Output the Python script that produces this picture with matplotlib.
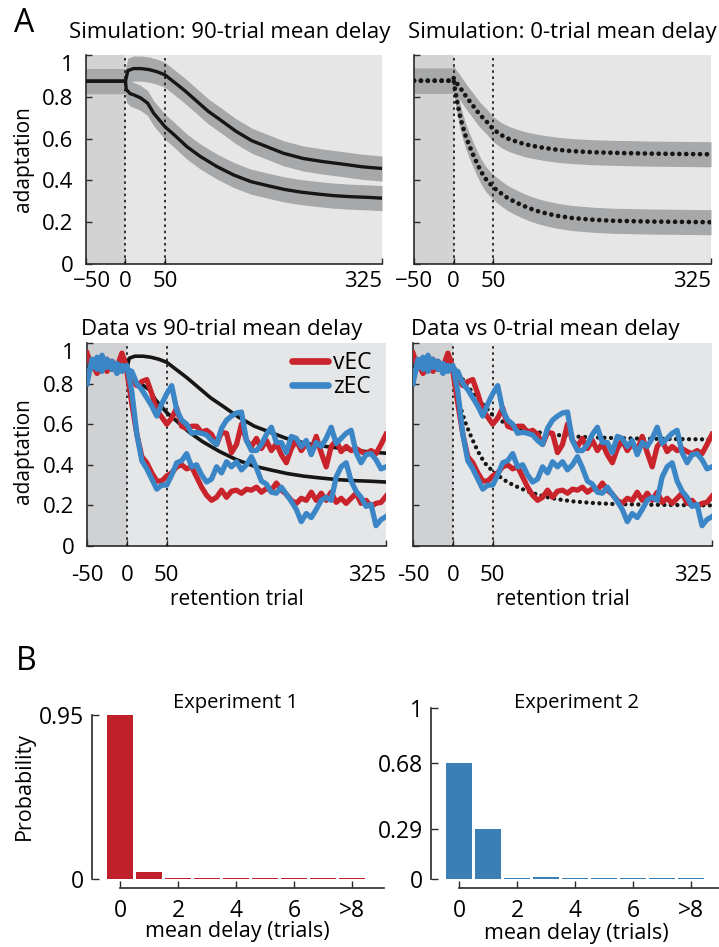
import numpy as np
import matplotlib.pyplot as plt
from matplotlib.lines import Line2D
from matplotlib.transforms import ScaledTranslation

plt.rcParams['font.family'] = ['Open Sans', 'DejaVu Sans']

# ---------------- data ----------------
# Simulation, 90-trial mean delay (two conditions)
sim90_hi_t = [-50, -25, 0, 3, 10, 20, 30, 40, 50, 60, 75, 90, 105, 120, 140, 160, 180, 200, 225, 250, 275, 300, 325]
sim90_hi = [0.875, 0.875, 0.875, 0.925, 0.935, 0.935, 0.93, 0.92, 0.905, 0.875, 0.83, 0.78, 0.73, 0.69,
            0.635, 0.59, 0.56, 0.53, 0.505, 0.49, 0.478, 0.465, 0.457]
sim90_lo_t = [-50, -25, 0, 1, 6, 10, 19, 28, 36, 45, 50, 62, 78, 95, 116, 137, 159, 180, 201, 222, 243, 264, 285, 306, 325]
sim90_lo = [0.875, 0.875, 0.875, 0.835, 0.815, 0.81, 0.795, 0.77, 0.72, 0.68, 0.657, 0.617, 0.561, 0.514,
            0.466, 0.426, 0.394, 0.375, 0.357, 0.344, 0.335, 0.327, 0.322, 0.319, 0.315]

# Simulation, 0-trial mean delay (two conditions)
sim0_hi_t = [-50, -25, -2, 0, 3, 8, 17, 25, 33, 42, 50, 60, 70, 80, 90, 100, 115, 130, 150, 175, 200, 250, 300, 325]
sim0_hi = [0.877, 0.877, 0.877, 0.89, 0.87, 0.845, 0.795, 0.755, 0.715, 0.68, 0.645, 0.617, 0.598, 0.585,
           0.573, 0.565, 0.555, 0.547, 0.54, 0.535, 0.532, 0.528, 0.526, 0.525]
sim0_lo_t = [-50, -25, -2, 0, 2, 5, 8, 11, 15, 20, 25, 30, 35, 41, 47, 54, 60, 68, 77, 86, 96, 107, 119,
             132, 150, 175, 200, 250, 325]
sim0_lo = [0.877, 0.877, 0.877, 0.88, 0.83, 0.765, 0.71, 0.665, 0.615, 0.565, 0.52, 0.478, 0.44, 0.405,
           0.38, 0.355, 0.338, 0.316, 0.298, 0.282, 0.266, 0.252, 0.24, 0.23, 0.22, 0.212, 0.207, 0.203, 0.20]
sim_band = 0.06  # half-width of simulation spread

# Data (retention trials every 6.25 trials from -50 to 325)
data_t = np.linspace(-50, 325, 61)
vEC_hi = [0.95, 0.88, 0.87, 0.90, 0.86, 0.91, 0.88, 0.95, 0.88,
          0.82, 0.79, 0.81, 0.82, 0.75, 0.67, 0.635, 0.60, 0.63, 0.68, 0.59, 0.58, 0.59, 0.59, 0.56, 0.57,
          0.55, 0.50, 0.56, 0.555, 0.46, 0.50, 0.60, 0.52, 0.49, 0.53, 0.48, 0.52, 0.47, 0.505, 0.45, 0.41,
          0.48, 0.52, 0.47, 0.505, 0.47, 0.54, 0.46, 0.39, 0.49, 0.52, 0.465, 0.49, 0.47, 0.48, 0.465,
          0.455, 0.47, 0.455, 0.50, 0.55]
vEC_lo = [0.93, 0.90, 0.85, 0.88, 0.92, 0.87, 0.89, 0.90, 0.86,
          0.70, 0.55, 0.44, 0.41, 0.36, 0.32, 0.32, 0.345, 0.36, 0.39, 0.40, 0.38, 0.39, 0.34, 0.29, 0.25,
          0.225, 0.24, 0.275, 0.24, 0.27, 0.275, 0.26, 0.28, 0.275, 0.29, 0.265, 0.283, 0.275, 0.31, 0.275,
          0.255, 0.225, 0.21, 0.235, 0.225, 0.265, 0.225, 0.26, 0.225, 0.265, 0.215, 0.235, 0.21, 0.235,
          0.26, 0.21, 0.225, 0.195, 0.21, 0.215, 0.245]
zEC_hi = [0.80, 0.92, 0.87, 0.94, 0.88, 0.91, 0.85, 0.89, 0.87,
          0.86, 0.80, 0.77, 0.73, 0.69, 0.64, 0.70, 0.75, 0.79, 0.67, 0.62, 0.60, 0.555, 0.56, 0.555, 0.547,
          0.52, 0.50, 0.58, 0.62, 0.64, 0.655, 0.66, 0.52, 0.47, 0.47, 0.50, 0.55, 0.585, 0.51, 0.51, 0.46,
          0.54, 0.53, 0.49, 0.52, 0.45, 0.51, 0.49, 0.53, 0.585, 0.505, 0.53, 0.555, 0.57, 0.46, 0.41,
          0.45, 0.455, 0.425, 0.38, 0.39]
zEC_lo = [0.85, 0.88, 0.93, 0.86, 0.92, 0.87, 0.90, 0.86, 0.89,
          0.76, 0.55, 0.42, 0.38, 0.33, 0.28, 0.30, 0.30, 0.35, 0.41, 0.42, 0.455, 0.39, 0.40, 0.35, 0.315,
          0.33, 0.39, 0.36, 0.415, 0.39, 0.415, 0.375, 0.40, 0.44, 0.385, 0.32, 0.305, 0.265, 0.26, 0.29,
          0.255, 0.22, 0.18, 0.12, 0.16, 0.14, 0.18, 0.225, 0.24, 0.225, 0.34, 0.39, 0.41, 0.32, 0.27,
          0.24, 0.195, 0.205, 0.10, 0.13, 0.145]

trial_ticks = [-50, 0, 50, 325]
trial_labels_top = ['\u221250', '0', '50', '325']
trial_labels_bot = ['-50', '0', '50', '325']
adapt_ticks = [0, 0.2, 0.4, 0.6, 0.8, 1]
adapt_labels = ['0', '0.2', '0.4', '0.6', '0.8', '1']

# Panel B: mean-delay distributions
delay_pos = np.arange(9)
delay_ticks = [0, 2, 4, 6, 8]
delay_labels = ['0', '2', '4', '6', '>8']
exp1_prob = [0.95, 0.04, 0.005, 0.004, 0.004, 0.004, 0.004, 0.004, 0.006]
exp2_prob = [0.68, 0.29, 0.008, 0.01, 0.003, 0.003, 0.003, 0.003, 0.003]
exp1_yticks = [0, 0.95]
exp2_yticks = [0, 0.29, 0.68, 1]

# ---------------- style ----------------
RED = '#C9232C'
BLUE = '#3B86C6'
RED_BAR = '#C0202A'
BLUE_BAR = '#3A7FB5'
SIMC = '#161616'
SPINE = '#2a2a2a'
TICKFS = 16
LABFS = 15
TFS = 16

W, H = 719, 947
fig = plt.figure(figsize=(W / 100, H / 100), dpi=100)


def axes_px(l, t, r, b):
    return fig.add_axes([l / W, 1 - b / H, (r - l) / W, (b - t) / H])


def style_a(ax, bg, base, labels, showy, pad, shift_first=0):
    ax.set_xlim(-50, 325)
    ax.set_ylim(0, 1)
    ax.set_facecolor(bg)
    ax.axvspan(-50, 0, color=base, lw=0, zorder=0)
    for s in ['top', 'right']:
        ax.spines[s].set_visible(False)
    for s in ['left', 'bottom']:
        ax.spines[s].set_color(SPINE)
        ax.spines[s].set_linewidth(1.2)
    ax.set_xticks(trial_ticks)
    ax.set_xticklabels(labels)
    ax.set_yticks(adapt_ticks)
    ax.set_yticklabels(adapt_labels)
    ax.tick_params(direction='in', length=4, width=1, labelsize=TICKFS, color=SPINE)
    ax.tick_params(axis='x', pad=pad)
    ax.tick_params(axis='y', pad=9)
    xl = ax.get_xticklabels()
    xl[-1].set_ha('right')
    if shift_first:
        xl[0].set_transform(xl[0].get_transform() +
                            ScaledTranslation(shift_first / 100, 0, fig.dpi_scale_trans))
    ax.get_yticklabels()[-1].set_va('top')
    if not showy:
        ax.tick_params(axis='y', labelleft=False)
    for xv in (0, 50):
        ax.axvline(xv, color='#111111', lw=1.2, ls=(0, (1.5, 2.2)), zorder=2)


ax1 = axes_px(86, 55, 382, 264)
ax2 = axes_px(414, 55, 711, 264)
ax3 = axes_px(87, 343, 386, 546)
ax4 = axes_px(413, 343, 712, 546)

style_a(ax1, '#E6E6E6', '#D3D3D3', trial_labels_top, True, 5, shift_first=6)
style_a(ax2, '#E6E6E6', '#D3D3D3', trial_labels_top, False, 5)
style_a(ax3, '#E5E6E8', '#D0D1D3', trial_labels_bot, True, 14)
style_a(ax4, '#E5E6E8', '#D0D1D3', trial_labels_bot, False, 14)

BAND = '#A7A8AA'
for t, y in ((sim90_hi_t, sim90_hi), (sim90_lo_t, sim90_lo)):
    y = np.asarray(y)
    ax1.fill_between(t, y - sim_band, y + sim_band, color=BAND, lw=0, zorder=1)
for t, y in ((sim90_hi_t, sim90_hi), (sim90_lo_t, sim90_lo)):
    ax1.plot(t, y, color=SIMC, lw=2.4, zorder=3)

for t, y in ((sim0_hi_t, sim0_hi), (sim0_lo_t, sim0_lo)):
    y = np.asarray(y)
    ax2.fill_between(t, y - sim_band, y + sim_band, color=BAND, lw=0, zorder=1)
for t, y in ((sim0_hi_t, sim0_hi), (sim0_lo_t, sim0_lo)):
    ax2.plot(t, y, color=SIMC, lw=3.4, ls=(0, (0.01, 1.45)), dash_capstyle='round', zorder=3)

for t, y in ((sim90_hi_t, sim90_hi), (sim90_lo_t, sim90_lo)):
    ax3.plot(t, y, color=SIMC, lw=2.6, zorder=3)
for t, y in ((sim0_hi_t, sim0_hi), (sim0_lo_t, sim0_lo)):
    ax4.plot(t, y, color=SIMC, lw=3.1, ls=(0, (0.01, 1.5)), dash_capstyle='round', zorder=3)

for ax in (ax3, ax4):
    ax.plot(data_t, vEC_hi, color=RED, lw=3.8, zorder=4, solid_joinstyle='round')
    ax.plot(data_t, vEC_lo, color=RED, lw=3.8, zorder=4, solid_joinstyle='round')
    ax.plot(data_t, zEC_hi, color=BLUE, lw=3.8, zorder=5, solid_joinstyle='round')
    ax.plot(data_t, zEC_lo, color=BLUE, lw=3.8, zorder=5, solid_joinstyle='round')

handles = [Line2D([], [], color=RED, lw=4.8, solid_capstyle='round'),
           Line2D([], [], color=BLUE, lw=4.8, solid_capstyle='round')]
leg = ax3.legend(handles, ['vEC', 'zEC'], loc='upper right', bbox_to_anchor=(0.953, 0.962),
                 frameon=False, fontsize=16.5, handlelength=1.55, handletextpad=0.25,
                 labelspacing=0.0, borderpad=0, borderaxespad=0)

ax1.set_ylabel('adaptation', fontsize=LABFS)
ax1.yaxis.set_label_coords(-0.176, 0.5)
ax3.set_ylabel('adaptation', fontsize=LABFS)
ax3.yaxis.set_label_coords(-0.177, 0.47)
for ax in (ax3, ax4):
    ax.set_xlabel('retention trial', fontsize=LABFS, labelpad=2)

fig.text(230 / W, 1 - 38 / H, 'Simulation: 90-trial mean delay', ha='center', va='baseline', fontsize=TFS)
fig.text(562 / W, 1 - 38 / H, 'Simulation: 0-trial mean delay', ha='center', va='baseline', fontsize=TFS)
fig.text(222 / W, 1 - 335 / H, 'Data vs 90-trial mean delay', ha='center', va='baseline', fontsize=TFS)
fig.text(545 / W, 1 - 335 / H, 'Data vs 0-trial mean delay', ha='center', va='baseline', fontsize=TFS)
fig.text(14 / W, 1 - 32 / H, 'A', ha='left', va='baseline', fontsize=23)
fig.text(16 / W, 1 - 670 / H, 'B', ha='left', va='baseline', fontsize=23)


# ---------------- panel B ----------------
def style_b(ax, ymax, yticks):
    ax.set_xlim(-0.5, 9.1)
    ax.set_ylim(0, ymax)
    for s in ['top', 'right']:
        ax.spines[s].set_visible(False)
    for s in ['left', 'bottom']:
        ax.spines[s].set_color(SPINE)
        ax.spines[s].set_linewidth(1.2)
    ax.spines['left'].set_position(('outward', 9.7))
    ax.spines['bottom'].set_position(('outward', 6.5))
    ax.spines['left'].set_bounds(0, ymax)
    ax.spines['bottom'].set_bounds(0, 9.1)
    ax.set_xticks(delay_ticks)
    ax.set_xticklabels(delay_labels)
    ax.set_yticks(yticks)
    ax.set_yticklabels([('%g' % v) for v in yticks])
    ax.tick_params(direction='in', length=5, width=1, labelsize=16.5, color=SPINE)
    ax.tick_params(axis='x', pad=8)
    ax.tick_params(axis='y', pad=6)
    ax.set_xlabel('mean delay (trials)', fontsize=15.5)
    ax.xaxis.set_label_coords(0.472, -0.255)
    ax.xaxis.label.set_va('top')


bx1 = axes_px(105.5, 715, 105.5 + 278.4, 879)
bx1.bar(delay_pos, exp1_prob, width=0.93, color=RED_BAR, lw=0)
style_b(bx1, 0.95, exp1_yticks)
bx1.set_ylabel('Probability', fontsize=15.5)
bx1.yaxis.set_label_coords(-0.253, 0.567)

bx2 = axes_px(444.5, 708, 444.5 + 278.4, 879)
bx2.bar(delay_pos, exp2_prob, width=0.93, color=BLUE_BAR, lw=0)
style_b(bx2, 1.0, exp2_yticks)

fig.text(236 / W, 1 - 708 / H, 'Experiment 1', ha='center', va='baseline', fontsize=14.5)
fig.text(576 / W, 1 - 708 / H, 'Experiment 2', ha='center', va='baseline', fontsize=14.5)

fig.savefig('out.png', dpi=100)
